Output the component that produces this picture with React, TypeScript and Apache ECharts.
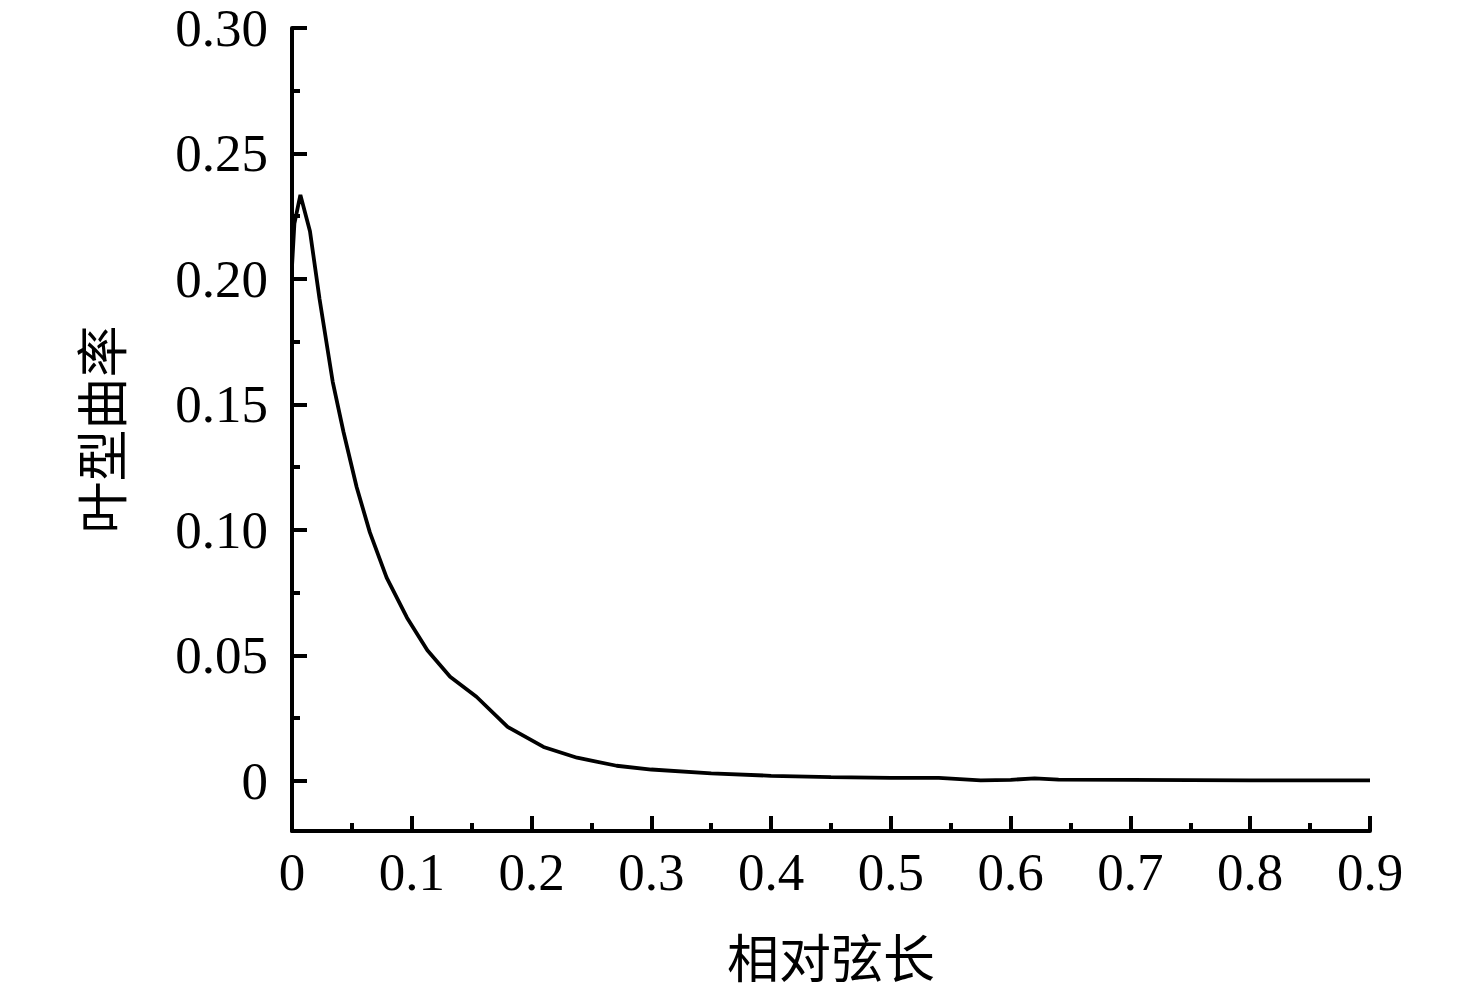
import React, { useEffect, useRef } from "react";
import * as echarts from "echarts";

const chordX = [0, 0.002, 0.007, 0.015, 0.023, 0.034, 0.043, 0.054, 0.065, 0.079, 0.096, 0.113, 0.132, 0.154, 0.18, 0.21, 0.238, 0.271, 0.3, 0.35, 0.4, 0.45, 0.5, 0.54, 0.575, 0.6, 0.62, 0.64, 0.7, 0.75, 0.8, 0.9];
const curvature = [0.205, 0.222, 0.2335, 0.219, 0.192, 0.159, 0.139, 0.117, 0.099, 0.081, 0.065, 0.052, 0.0415, 0.0335, 0.0215, 0.0135, 0.0092, 0.006, 0.0045, 0.003, 0.002, 0.0015, 0.0012, 0.0012, 0.0002, 0.0004, 0.001, 0.0005, 0.0004, 0.0003, 0.0002, 0.0002];

const xName = "相对弦长";
const yName = "叶型曲率";

const SERIF = "'Liberation Serif', 'Times New Roman', serif";
const CJK = "'Noto Sans CJK SC', sans-serif";

export default function App() {
  const ref = useRef<HTMLDivElement>(null);
  useEffect(() => {
    if (!ref.current) return;
    const chart = echarts.init(ref.current, null, { renderer: "svg" });
    const axisCommon = {
      axisLine: { show: true, onZero: false, lineStyle: { color: "#000", width: 4 } },
      axisTick: { show: true, inside: true, length: 15, lineStyle: { color: "#000", width: 4 } },
      minorTick: { show: true, splitNumber: 2, length: 8, lineStyle: { color: "#000", width: 4 } },
      splitLine: { show: false },
      minorSplitLine: { show: false },
    };
    chart.setOption({
      animation: false,
      backgroundColor: "#fff",
      grid: { left: 292, right: 106, top: 28, bottom: 166, containLabel: false },
      xAxis: {
        type: "value",
        min: 0,
        max: 0.9,
        interval: 0.1,
        ...axisCommon,
        axisLabel: {
          color: "#000",
          fontFamily: SERIF,
          fontSize: 53,
          margin: 14,
          formatter: (v: number) => (v === 0 ? "0" : v.toFixed(1)),
        },
        name: xName,
        nameLocation: "middle",
        nameGap: 98,
        nameTextStyle: { color: "#000", fontFamily: CJK, fontSize: 52 },
      },
      yAxis: {
        type: "value",
        min: -0.02,
        max: 0.3,
        splitNumber: 6,
        ...axisCommon,
        axisLabel: {
          color: "#000",
          fontFamily: SERIF,
          fontSize: 53,
          margin: 24,
          showMinLabel: false,
          formatter: (v: number) => (v < -1e-9 ? "" : Math.abs(v) < 1e-9 ? "0" : v.toFixed(2)),
        },
        name: yName,
        nameLocation: "middle",
        nameGap: 167,
        nameTextStyle: { color: "#000", fontFamily: CJK, fontSize: 52 },
      },
      series: [
        {
          type: "line",
          data: chordX.map((x, i) => [x, curvature[i]]),
          showSymbol: false,
          smooth: false,
          lineStyle: { color: "#000", width: 3.8 },
          clip: true,
        },
      ],
    });
    return () => chart.dispose();
  }, []);
  return (
    <div
      ref={ref}
      style={{ position: "fixed", left: 0, top: 0, width: 1476, height: 997, background: "#fff" }}
    />
  );
}
